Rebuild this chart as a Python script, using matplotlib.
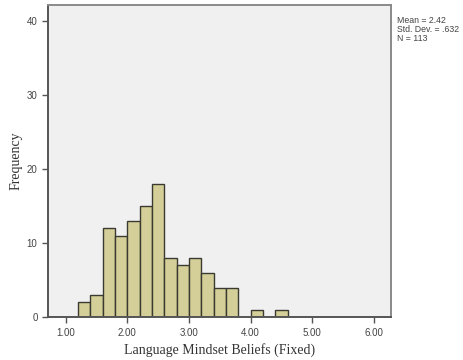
import numpy as np
import matplotlib
matplotlib.use('Agg')
import matplotlib.pyplot as plt

# Histogram data (bin width 0.2)
bin_edges = [1.2, 1.4, 1.6, 1.8, 2.0, 2.2, 2.4, 2.6, 2.8, 3.0, 3.2, 3.4, 3.6, 3.8, 4.0, 4.2, 4.4, 4.6]
counts = [2, 3, 12, 11, 13, 15, 18, 8, 7, 8, 6, 4, 4, 0, 1, 0, 1]
x_ticks = [1, 2, 3, 4, 5, 6]
x_tick_labels = ['1.00', '2.00', '3.00', '4.00', '5.00', '6.00']
y_ticks = [0, 10, 20, 30, 40]
stats_text = 'Mean = 2.42\nStd. Dev. = .632\nN = 113'

fig = plt.figure(figsize=(4.64, 3.6), dpi=100)
ax = fig.add_axes([0.1034, 0.119, 0.7393, 0.867])
ax.set_facecolor('#f0f0f0')

edges = np.array(bin_edges)
heights = np.array(counts)
mask = heights > 0
ax.bar(edges[:-1][mask], heights[mask], width=np.diff(edges)[mask], align='edge',
       color='#d4cf98', edgecolor='#3a3a30', linewidth=1.0)

ax.set_xlim(0.71, 6.28)
ax.set_ylim(0, 42.1)
ax.set_xticks(x_ticks)
ax.set_xticklabels(x_tick_labels)
ax.set_yticks(y_ticks)

for s in ax.spines.values():
    s.set_color('#8a8a8a')
    s.set_linewidth(1.4)
ax.spines['bottom'].set_color('#555555')
ax.spines['left'].set_color('#555555')

ax.tick_params(axis='both', direction='out', length=4, width=1, color='#555555',
               labelsize=7, labelcolor='#444444')
for lab in ax.get_xticklabels() + ax.get_yticklabels():
    lab.set_family('Liberation Sans')

ax.set_xlabel('Language Mindset Beliefs (Fixed)', family='Liberation Serif', fontsize=10, color='#333333', labelpad=4)
ax.set_ylabel('Frequency', family='Liberation Serif', fontsize=10, color='#333333', labelpad=3)

fig.text(0.855, 0.955, stats_text, family='Liberation Sans', fontsize=6.3, color='#444444',
         va='top', ha='left', linespacing=1.0)

fig.savefig('out.png', dpi=100)
